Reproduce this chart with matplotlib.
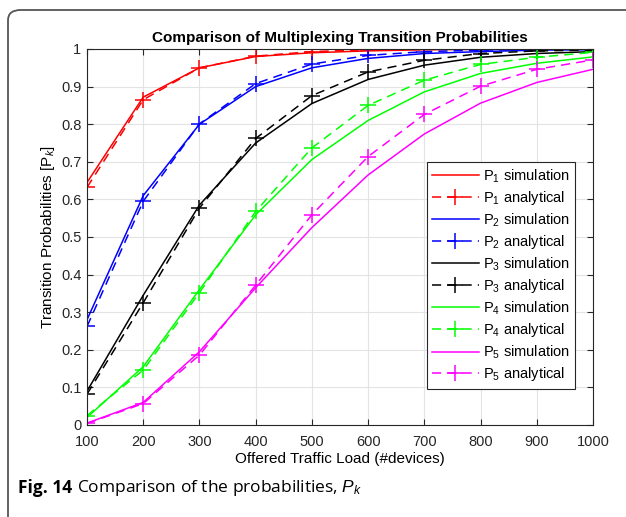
"""Recreate the multiplexing transition probability comparison figure."""

import matplotlib

matplotlib.use("Agg")
import matplotlib.pyplot as plt
from matplotlib.patches import FancyBboxPatch

LOAD = [100, 200, 300, 400, 500, 600, 700, 800, 900, 1000]

P1_SIM = [0.645, 0.872, 0.950, 0.980, 0.990, 0.995, 0.998, 0.999, 1.000, 1.000]
P1_ANA = [0.632, 0.865, 0.950, 0.981, 0.993, 0.998, 0.999, 1.000, 1.000, 1.000]
P2_SIM = [0.280, 0.610, 0.800, 0.900, 0.950, 0.975, 0.988, 0.993, 0.997, 0.998]
P2_ANA = [0.262, 0.595, 0.801, 0.908, 0.960, 0.983, 0.993, 0.997, 0.999, 1.000]
P3_SIM = [0.090, 0.345, 0.585, 0.750, 0.855, 0.919, 0.957, 0.978, 0.988, 0.993]
P3_ANA = [0.082, 0.325, 0.577, 0.762, 0.876, 0.939, 0.970, 0.988, 0.995, 0.997]
P4_SIM = [0.020, 0.155, 0.360, 0.559, 0.706, 0.810, 0.886, 0.935, 0.962, 0.979]
P4_ANA = [0.025, 0.146, 0.352, 0.568, 0.737, 0.850, 0.917, 0.959, 0.978, 0.991]
P5_SIM = [0.005, 0.060, 0.195, 0.365, 0.525, 0.665, 0.774, 0.856, 0.911, 0.946]
P5_ANA = [0.004, 0.057, 0.186, 0.372, 0.559, 0.714, 0.826, 0.901, 0.946, 0.971]

SERIES = [
    ("1", P1_SIM, P1_ANA, "#FF0000"),
    ("2", P2_SIM, P2_ANA, "#0000FF"),
    ("3", P3_SIM, P3_ANA, "#000000"),
    ("4", P4_SIM, P4_ANA, "#00FF00"),
    ("5", P5_SIM, P5_ANA, "#FF00FF"),
]

plt.rcParams.update({
    "font.family": ["Liberation Sans", "DejaVu Sans"],
    "mathtext.fontset": "custom",
    "mathtext.rm": "Liberation Sans",
    "mathtext.it": "Liberation Sans:italic",
    "font.size": 10.5,
})

fig = plt.figure(figsize=(6.26, 5.17), dpi=100)
W, H = 626, 517

# outer frame (rounded, runs off the right/bottom edges)
frame = FancyBboxPatch(
    (8 / W, -0.1), 1.2, 1 - 10 / H + 0.1,
    boxstyle="round,pad=0,rounding_size=0.02",
    transform=fig.transFigure, facecolor="none", edgecolor="#555555",
    linewidth=1.3, clip_on=False,
)
fig.patches.append(frame)

ax = fig.add_axes([87 / W, 1 - 425 / H, (593 - 87) / W, (425 - 49) / H])

for k, sim, ana, color in SERIES:
    ax.plot(LOAD, sim, "-", color=color, linewidth=1.1, label=f"P$_{k}$ simulation")
    ax.plot(LOAD, ana, "--", color=color, linewidth=1.1, marker="+",
            markersize=11, markeredgewidth=1.1, dashes=(6, 4),
            label=f"P$_{k}$ analytical")

ax.set_xlim(100, 1000)
ax.set_ylim(0, 1)
ax.set_xticks(LOAD)
ax.set_yticks([i / 10 for i in range(11)])
ax.set_yticklabels(["0", "0.1", "0.2", "0.3", "0.4", "0.5", "0.6", "0.7", "0.8", "0.9", "1"])
ax.grid(True, color="#E3E3E3", linewidth=0.8)
ax.set_axisbelow(True)
ax.tick_params(direction="in", top=True, right=True, length=4, colors="#262626",
               labelsize=10.5, pad=4)
ax.tick_params(axis="x", pad=7)
for spine in ax.spines.values():
    spine.set_color("#262626")
    spine.set_linewidth(0.8)

ax.set_title("Comparison of Multiplexing Transition Probabilities",
             fontweight="bold", fontsize=11, pad=5)
ax.set_xlabel("Offered Traffic Load (#devices)", fontsize=11, labelpad=2)
ax.set_ylabel("Transition Probabilities [P$_k$]", fontsize=11, labelpad=3)

leg = ax.legend(
    loc="upper left", bbox_to_anchor=((427 - 87) / (593 - 87), 1 - (162 - 49) / (425 - 49)),
    fontsize=10.5, handlelength=3.2, handletextpad=0.3, labelspacing=0.3,
    borderpad=0.35, borderaxespad=0, fancybox=False, framealpha=1,
    edgecolor="#262626",
)
leg.get_frame().set_linewidth(0.8)

# caption: bold "Fig. 14" then the plain text right after it
cap_y = 1 - 488 / H
fig_lbl = fig.text(18 / W, cap_y, "Fig. 14", fontsize=12.5, va="center", ha="left",
                   family="Open Sans", weight="bold")
fig.canvas.draw()
bb = fig_lbl.get_window_extent()
fig.text(bb.x1 / W + 5 / W, cap_y, "Comparison of the probabilities, $P_k$",
         fontsize=12.5, va="center", ha="left", family="Open Sans")

fig.savefig("out.png", dpi=100)
